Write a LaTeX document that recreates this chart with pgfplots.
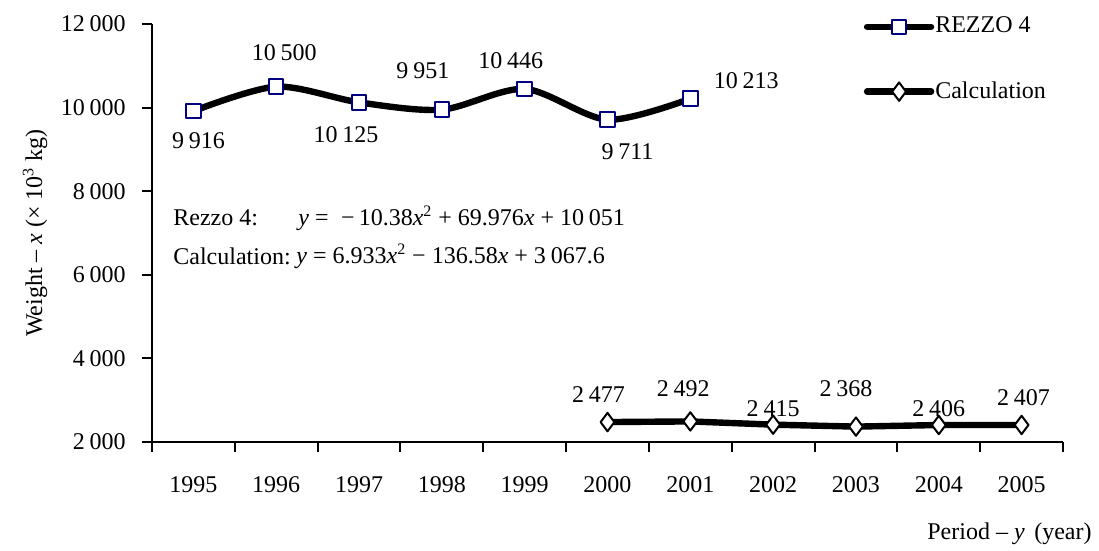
\documentclass[12pt,border=0pt]{standalone}
\usepackage{fontspec}
\setmainfont{Liberation Serif}
\usepackage{pgfplots}
\pgfplotsset{compat=1.18}
\definecolor{navy}{RGB}{0,0,128}
\newcommand\ts{\hspace{0.2em}}
\begin{document}
\begin{tikzpicture}
\path[use as bounding box] (-76pt,-54.5pt) rectangle (473.5pt,221pt);
\begin{axis}[
  at={(0,0)}, anchor=south west,
  scale only axis, width=455.5pt, height=209pt,
  xmin=-0.5, xmax=10.5, ymin=2000, ymax=12000,
  scaled y ticks=false, scaled x ticks=false,
  axis x line*=bottom, axis y line*=left,
  axis line style={line width=1pt, -},
  tick align=outside,
  tick style={line width=1pt, black},
  major tick length=5pt,
  xtick={-0.5,0.5,1.5,2.5,3.5,4.5,5.5,6.5,7.5,8.5,9.5,10.5},
  xticklabels={},
  extra x ticks={0,1,2,3,4,5,6,7,8,9,10},
  extra x tick labels={1995,1996,1997,1998,1999,2000,2001,2002,2003,2004,2005},
  extra x tick style={major tick length=0pt, xticklabel style={yshift=-13pt}},
  ytick={2000,4000,6000,8000,10000,12000},
  yticklabels={2\ts000,4\ts000,6\ts000,8\ts000,10\ts000,12\ts000},
  yticklabel style={xshift=-4pt},
  clip=false,
  legend style={draw=none, fill=none, at={(0.781,1.02)}, anchor=north west, inner sep=0pt, row sep=21.5pt, nodes={inner sep=0.5pt, anchor=west}},
  legend cell align=left,
  legend image code/.code={\draw[mark repeat=2,mark phase=2,#1] plot coordinates {(0pt,0pt) (16pt,0pt) (32pt,0pt)};},
]
\addplot[line width=3.2pt, black, smooth, line cap=round, line join=round, mark=square*, mark size=3.6pt, mark options={fill=white, draw=navy, line width=1pt}]
  coordinates {(0,9916)(1,10500)(2,10125)(3,9951)(4,10446)(5,9711)(6,10213)};
\addlegendentry{REZZO 4}
\addplot[line width=3.2pt, black, line cap=round, line join=round, mark=diamond*, mark size=4.6pt, mark options={fill=white, draw=black, line width=1pt}]
  coordinates {(5,2477)(6,2492)(7,2415)(8,2368)(9,2406)(10,2407)};
\addlegendentry{Calculation}

\node at (axis cs:0,9916) [xshift=2.5pt,yshift=-15pt] {9\ts916};
\node at (axis cs:1,10500) [xshift=4pt,yshift=17pt] {10\ts500};
\node at (axis cs:2,10125) [xshift=-6.5pt,yshift=-16pt] {10\ts125};
\node at (axis cs:3,9951) [xshift=-9.5pt,yshift=19.5pt] {9\ts951};
\node at (axis cs:4,10446) [xshift=-7pt,yshift=14pt] {10\ts446};
\node at (axis cs:5,9711) [xshift=10pt,yshift=-16pt] {9\ts711};
\node at (axis cs:6,10213) [xshift=28pt,yshift=9pt] {10\ts213};

\node at (axis cs:5,2477) [xshift=-4.5pt,yshift=14pt] {2\ts477};
\node at (axis cs:6,2492) [xshift=-3.5pt,yshift=16.5pt] {2\ts492};
\node at (axis cs:7,2415) [xshift=0pt,yshift=8pt] {2\ts415};
\node at (axis cs:8,2368) [xshift=-5pt,yshift=19pt] {2\ts368};
\node at (axis cs:9,2406) [xshift=0pt,yshift=8pt] {2\ts406};
\node at (axis cs:10,2407) [xshift=1pt,yshift=13.5pt] {2\ts407};
\end{axis}
\node[anchor=west, inner sep=0pt] at (10.5pt,112pt) {Rezzo 4:};
\node[anchor=west, inner sep=0pt] at (73pt,112pt) {\textit{y} = \;−\,10.38\textit{x}\textsuperscript{2} + 69.976\textit{x} + 10\ts051};
\node[anchor=west, inner sep=0pt] at (10.5pt,93pt) {Calculation:};
\node[anchor=west, inner sep=0pt] at (72pt,93pt) {\textit{y} = 6.933\textit{x}\textsuperscript{2} − 136.58\textit{x} + 3\ts067.6};
\node[rotate=90] at (-58.5pt,104.5pt) {Weight – \textit{x} (× 10\textsuperscript{3} kg)};
\node[anchor=east, inner sep=0pt] at (470pt,-46pt) {Period – \textit{y}\hspace{0.4em}(year)};
\end{tikzpicture}
\end{document}
